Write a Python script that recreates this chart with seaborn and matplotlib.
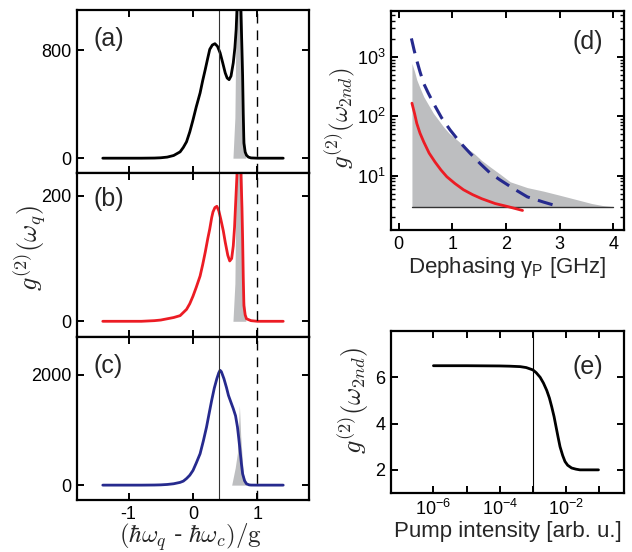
import numpy as np
import matplotlib
matplotlib.use("Agg")
import matplotlib.pyplot as plt
import matplotlib.ticker as mticker
import seaborn as sns

# panel (a)-(c): g2 vs detuning (hw_q - hw_c)/g
det_a = [-1.4, -0.8, -0.6, -0.5, -0.4, -0.3, -0.2, -0.15, -0.1, -0.05, 0.0, 0.05, 0.11, 0.15, 0.19, 0.23,
         0.26, 0.30, 0.34, 0.38, 0.42, 0.46, 0.50, 0.53, 0.56, 0.59, 0.625, 0.65, 0.67, 0.69, 0.715,
         0.74, 0.76, 0.77, 0.78, 0.79, 0.81, 0.83, 0.86, 0.9, 1.0, 1.4]
g2_a = [0, 0, 1, 3, 8, 20, 47, 80, 122, 195, 284, 380, 484, 575, 658, 745,
        808, 840, 850, 830, 783, 710, 633, 595, 583, 610, 708, 820, 957, 1200, 1600,
        1150, 800, 608, 330, 112, 45, 22, 8, 2, 0, 0]

det_b = [-1.4, -0.8, -0.6, -0.5, -0.4, -0.3, -0.2, -0.1, -0.05, 0.0, 0.05, 0.11, 0.15, 0.19, 0.23, 0.26,
         0.29, 0.31, 0.34, 0.37, 0.40, 0.43, 0.47, 0.50, 0.54, 0.57, 0.60, 0.625, 0.645, 0.66, 0.69,
         0.715, 0.74, 0.76, 0.77, 0.78, 0.79, 0.81, 0.83, 0.9, 1.0, 1.4]
g2_b = [0, 0, 1, 2, 4, 6, 9, 19, 28, 40, 54, 72, 90, 110, 132, 147,
        165, 174, 181, 183, 176, 163, 144, 126, 105, 96, 100, 120, 150, 184, 250,
        320, 250, 180, 131, 70, 25, 10, 4, 1, 0, 0]

det_c = [-1.4, -0.8, -0.6, -0.5, -0.4, -0.3, -0.2, -0.15, -0.1, -0.05, 0.0, 0.05, 0.11, 0.16, 0.21, 0.25,
         0.29, 0.33, 0.37, 0.40, 0.42, 0.44, 0.48, 0.52, 0.55, 0.59, 0.625, 0.66, 0.69, 0.71, 0.73,
         0.75, 0.77, 0.80, 0.83, 0.87, 0.9, 1.0, 1.4]
g2_c = [0, 0, 2, 5, 12, 25, 50, 73, 120, 180, 267, 400, 570, 800, 1055, 1300,
        1540, 1760, 1933, 2040, 2085, 2060, 1933, 1770, 1630, 1500, 1388, 1260, 1055, 850, 630,
        400, 206, 80, 24, 5, 1, 0, 0]

# gray reference spike in each panel
spike_x_a = [0.62, 0.65, 0.67, 0.70, 0.72, 0.75, 0.78, 0.82]
spike_a = [0, 300, 1100, 2500, 3000, 1500, 300, 0]
spike_x_b = [0.62, 0.65, 0.67, 0.70, 0.72, 0.75, 0.78, 0.82]
spike_b = [0, 60, 236, 500, 600, 300, 60, 0]
spike_x_c = [0.60, 0.655, 0.69, 0.705, 0.72, 0.74, 0.78, 0.84]
spike_c = [0, 315, 590, 1000, 1450, 900, 200, 0]

# panel (d): dephasing
deph_fill = [0.25, 0.30, 0.34, 0.40, 0.47, 0.55, 0.65, 0.75, 0.84, 0.95, 1.09, 1.25, 1.40, 1.55, 1.71,
             1.90, 2.08, 2.40, 2.70, 3.00, 3.30, 3.60, 3.80, 4.00]
fill_top = [776, 560, 410, 300, 213, 160, 112, 85, 66, 51, 40, 30, 24, 18, 14,
            10.5, 7.9, 6.3, 5.5, 4.7, 4.0, 3.4, 3.15, 3.0]
fill_base = 3.0
deph_red = [0.25, 0.30, 0.34, 0.40, 0.47, 0.57, 0.68, 0.79, 0.90, 1.05, 1.21, 1.38, 1.55, 1.80, 2.05, 2.31]
g2_red = [166, 110, 76, 52, 37, 24, 17, 12.5, 9.6, 7.4, 5.8, 4.8, 4.1, 3.4, 3.0, 2.6]
deph_blue = [0.24, 0.29, 0.34, 0.40, 0.47, 0.55, 0.65, 0.80, 0.96, 1.15, 1.33, 1.52, 1.71, 1.89, 2.15, 2.40, 2.70, 3.0]
g2_blue = [2040, 1300, 870, 560, 355, 250, 166, 95, 59, 36, 24, 16, 11, 8.5, 6.0, 4.4, 3.6, 3.0]

# panel (e): pump intensity (log10 exponents) vs g2
pump_exp = [-6, -5, -4, -3.7, -3.38, -3.2, -3.0, -2.9, -2.78, -2.68, -2.58, -2.5, -2.43, -2.36,
            -2.30, -2.24, -2.18, -2.10, -2.03, -1.95, -1.83, -1.70, -1.58, -1.02]
g2_pump = [6.5, 6.5, 6.49, 6.48, 6.46, 6.42, 6.32, 6.2, 6.0, 5.75, 5.43, 5.1, 4.72, 4.3,
           3.86, 3.42, 3.0, 2.62, 2.36, 2.2, 2.08, 2.03, 2.0, 2.0]

sns.set_style("ticks")
plt.rcParams['font.family'] = ['Liberation Sans', 'DejaVu Sans']
plt.rcParams['mathtext.fontset'] = 'custom'
plt.rcParams['mathtext.rm'] = 'Liberation Sans'
plt.rcParams['mathtext.it'] = 'Liberation Sans:italic'
plt.rcParams['mathtext.bf'] = 'Liberation Sans:bold'
plt.rcParams['axes.linewidth'] = 1.6
plt.rcParams['axes.unicode_minus'] = False

RED = '#ec1c24'
BLUE = '#262a8e'
GRAY = '#bdbec0'

W, H = 632, 552
fig = plt.figure(figsize=(6.32, 5.52), dpi=100)


def box(l, t, r, b):
    return [l / W, 1 - b / H, (r - l) / W, (b - t) / H]


def style(ax):
    ax.tick_params(axis='both', which='major', direction='in', top=True, right=True,
                   bottom=True, left=True, labelsize=13, width=1.4, length=5, pad=4,
                   color='black', labelcolor='black')
    ax.tick_params(axis='both', which='minor', direction='in', top=True, right=True,
                   bottom=True, left=True, length=3, width=1.0, color='black')
    for s in ax.spines.values():
        s.set_linewidth(1.6)
        s.set_color('black')
        s.set_visible(True)


left_axes = [fig.add_axes(box(77, 10, 309, 173)),
             fig.add_axes(box(77, 173, 309, 337)),
             fig.add_axes(box(77, 337, 309, 500))]
panel_data = [(det_a, g2_a, spike_x_a, spike_a, 'black', (-110, 1100), [0, 800], '(a)', 0.82),
              (det_b, g2_b, spike_x_b, spike_b, RED, (-25, 236), [0, 200], '(b)', 0.84),
              (det_c, g2_c, spike_x_c, spike_c, BLUE, (-270, 2690), [0, 2000], '(c)', 0.82)]

for ax, (dx, dy, sx, sy, col, ylim, yt, lab, ly) in zip(left_axes, panel_data):
    ax.fill_between(sx, 0, sy, color=GRAY, lw=0)
    sns.lineplot(x=dx, y=dy, ax=ax, color=col, lw=2.0, sort=False)
    ax.axvline(0.4, color='#333333', lw=0.8)
    ax.axvline(1.0, color='black', lw=1.0, dashes=(7, 5))
    ax.set_xlim(-1.8, 1.8)
    ax.set_ylim(*ylim)
    ax.set_yticks(yt)
    ax.set_xticks([-1, 0, 1])
    style(ax)
    ax.text(0.069, ly, lab, transform=ax.transAxes, fontsize=18, va='center', ha='left')

left_axes[0].tick_params(labelbottom=False)
left_axes[1].tick_params(labelbottom=False)
fig.text(190 / W, 1 - 537 / H, r'$(\hbar\omega_q$ - $\hbar\omega_c)/\mathrm{g}$', fontsize=18,
         math_fontfamily='cm', ha='center', va='center')
fig.text(30 / W, 1 - 248 / H, r'$g^{(2)}(\omega_q)$', rotation=90, fontsize=19,
         math_fontfamily='cm', ha='center', va='center')

# panel (d)
axd = fig.add_axes(box(391, 11, 624, 230))
axd.fill_between(deph_fill, fill_base, fill_top, color=GRAY, lw=0)
axd.plot([deph_fill[0], deph_fill[-1]], [fill_base, fill_base], color='#333333', lw=1.0)
sns.lineplot(x=deph_red, y=g2_red, ax=axd, color=RED, lw=2.0)
sns.lineplot(x=deph_blue, y=g2_blue, ax=axd, color=BLUE, lw=2.2)
axd.lines[-1].set_dashes((5, 2.8))
axd.set_yscale('log')
axd.set_xlim(-0.14, 4.2)
axd.set_ylim(1.22, 5900)
axd.set_xticks([0, 1, 2, 3, 4])
axd.yaxis.set_minor_locator(mticker.LogLocator(base=10, subs=np.arange(2, 10)))
style(axd)
axd.set_xlabel(r'Dephasing $\mathrm{\gamma_P}$ [GHz]', fontsize=16, labelpad=2)
axd.text(0.78, 0.86, '(d)', transform=axd.transAxes, fontsize=18, va='center', ha='left')
fig.text(341 / W, 1 - 118 / H, r'$g^{(2)}(\omega_{2nd})$', rotation=90, fontsize=18,
         math_fontfamily='cm', ha='center', va='center')

# panel (e)
axe = fig.add_axes(box(391, 331, 624, 493))
pump = [10 ** p for p in pump_exp]
sns.lineplot(x=pump, y=g2_pump, ax=axe, color='black', lw=2.0)
axe.axvline(1e-3, color='black', lw=0.8)
axe.set_xscale('log')
axe.set_xlim(10 ** -7.28, 10 ** -0.25)
axe.set_ylim(1, 8)
axe.set_yticks([2, 4, 6])
axe.set_xticks([1e-6, 1e-5, 1e-4, 1e-3, 1e-2, 1e-1])
axe.set_xticklabels([r'$10^{-6}$', '', r'$10^{-4}$', '', r'$10^{-2}$', ''])
axe.xaxis.set_minor_locator(mticker.NullLocator())
style(axe)
axe.set_xlabel('Pump intensity [arb. u.]', fontsize=16, labelpad=2)
axe.text(0.78, 0.78, '(e)', transform=axe.transAxes, fontsize=18, va='center', ha='left')
fig.text(353 / W, 1 - 400 / H, r'$g^{(2)}(\omega_{2nd})$', rotation=90, fontsize=19,
         math_fontfamily='cm', ha='center', va='center')

fig.savefig('out.png', dpi=100)
